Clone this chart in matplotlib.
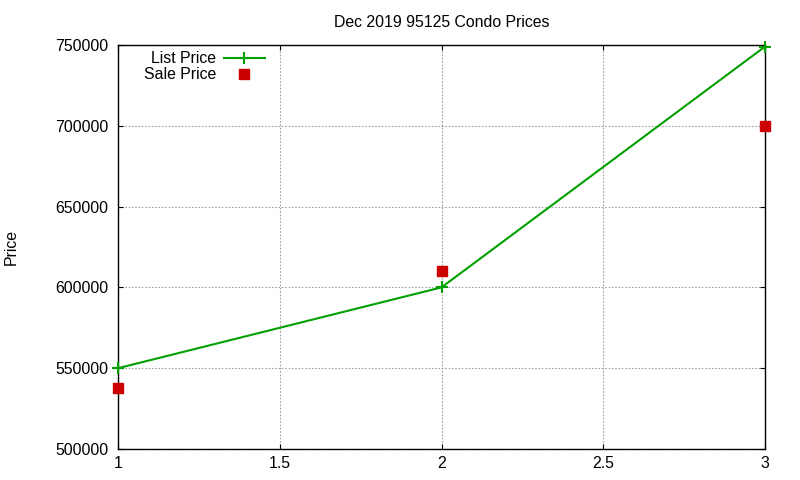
import matplotlib
matplotlib.use("Agg")
import matplotlib.pyplot as plt

plt.rcParams['font.family'] = ['Liberation Sans', 'DejaVu Sans']

x = [1, 2, 3]
list_price = [550000, 600000, 749000]
sale_price = [538000, 610000, 700000]

fig = plt.figure(figsize=(8, 4.8), dpi=100)
ax = fig.add_axes([0.1475, 0.0646, 0.80875, 0.8417])

ax.plot(x, list_price, color="#00a000", lw=1.5, marker="+", ms=8, mew=1.5,
        label="List Price", clip_on=False, zorder=3)
ax.plot(x, sale_price, ls="none", color="#cc0000", marker="s", ms=6.5,
        label="Sale Price", clip_on=False, zorder=3)

ax.set_xlim(1, 3)
ax.set_ylim(500000, 750000)
ax.set_xticks([1, 1.5, 2, 2.5, 3])
ax.set_xticklabels(["1", "1.5", "2", "2.5", "3"])
ax.set_yticks(range(500000, 750001, 50000))
ax.grid(True, color="#a0a0a0", ls=(0, (1.5, 1.5)), lw=0.8)
ax.tick_params(direction="in", length=3.5, width=0.8, labelsize=11.4,
               top=True, right=True, color="black")
ax.tick_params(axis="x", pad=5)
ax.tick_params(axis="y", pad=7)
for s in ax.spines.values():
    s.set_linewidth(1.0)

ax.set_title("Dec 2019 95125 Condo Prices", fontsize=11.4, pad=13)
ax.set_ylabel("Price", fontsize=11.4, labelpad=26)

leg = ax.legend(loc="upper left", bbox_to_anchor=(0.03, 1.0), frameon=False,
                markerfirst=False, fontsize=11.4, handlelength=2.6,
                borderaxespad=0.0, labelspacing=0.05, handletextpad=0.5)
for t in leg.get_texts():
    t.set_ha("right")

fig.savefig("out.png", dpi=100)
